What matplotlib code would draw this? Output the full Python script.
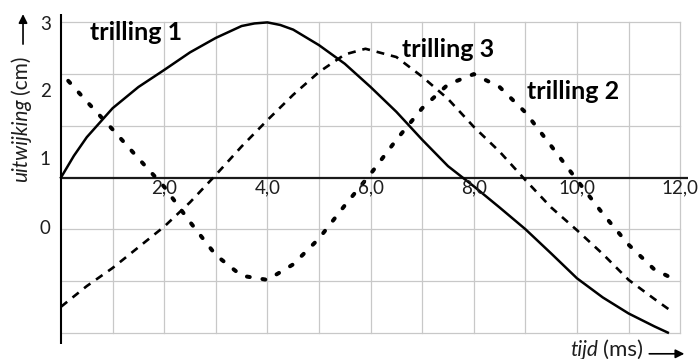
import matplotlib
matplotlib.use('Agg')
import matplotlib.pyplot as plt

# ---- data (tijd in ms, uitwijking in cm) ----
tijd_1 = [0, 0.25, 0.5, 1.0, 1.5, 2.0, 2.5, 3.0, 3.5, 3.75, 4.0, 4.25, 4.5, 5.0, 5.5, 6.0,
          6.5, 7.0, 7.5, 8.0, 8.5, 9.0, 9.5, 10.0, 10.5, 11.0, 11.5, 11.76]
uitw_1 = [0, 0.42, 0.78, 1.34, 1.75, 2.08, 2.42, 2.7, 2.93, 2.98, 3.0, 2.95, 2.86, 2.56, 2.2, 1.75,
          1.27, 0.73, 0.22, -0.17, -0.58, -1.0, -1.47, -1.95, -2.32, -2.63, -2.88, -3.0]

tijd_2 = [0.14, 0.5, 1.0, 1.5, 2.0, 2.5, 3.0, 3.5, 4.0, 4.5, 5.0, 5.5, 6.0, 6.5, 7.0, 7.5,
          8.0, 8.5, 9.0, 9.5, 10.0, 10.5, 11.0, 11.5, 11.95]
uitw_2 = [1.87, 1.47, 0.93, 0.37, -0.18, -0.86, -1.5, -1.9, -1.98, -1.68, -1.18, -0.54, 0.07, 0.73, 1.34, 1.8,
          2.0, 1.75, 1.26, 0.61, -0.05, -0.7, -1.3, -1.78, -2.0]

tijd_3 = [0, 0.5, 1.0, 1.5, 2.0, 2.5, 3.0, 3.5, 4.0, 4.5, 5.0, 5.5, 5.9, 6.5, 7.0, 7.5,
          8.0, 8.5, 9.0, 9.5, 10.0, 10.5, 11.0, 11.5, 11.85]
uitw_3 = [-2.5, -2.1, -1.75, -1.35, -0.95, -0.48, 0.05, 0.6, 1.11, 1.6, 2.04, 2.38, 2.49, 2.33, 1.95, 1.52,
          0.98, 0.5, -0.05, -0.58, -1.02, -1.48, -1.98, -2.35, -2.6]

x_ticks = [2, 4, 6, 8, 10, 12]
x_labels = ['2,0', '4,0', '6,0', '8,0', '10,0', '12,0']
# y labels in the original sit off the grid lines
y_ticks = [2.96, 1.67, 0.34, -0.99]
y_labels = ['3', '2', '1', '0']

plt.rcParams['font.family'] = ['Lato', 'DejaVu Sans']

fig = plt.figure(figsize=(6.98, 3.59), dpi=100)
ax = fig.add_axes([0, 0, 1, 1])
# 0 ms at 61 px, 51.6 px per ms ; 0 cm at 177.5 px, 51.7 px per cm
ax.set_xlim(-61 / 51.6, (698 - 61) / 51.6)
ax.set_ylim(-(359 - 177.5) / 51.7, 177.5 / 51.7)
ax.axis('off')

# grid
grijs = '#c8c8c8'
for t in range(1, 13):
    ax.plot([t, t], [-3, 3], color=grijs, lw=0.9, zorder=1)
for y in range(-3, 4):
    if y != 0:
        ax.plot([0, 12], [y, y], color=grijs, lw=0.9, zorder=1)

# assen
ax.plot([0, 0], [-3.23, 3.17], color='black', lw=1.5, zorder=3, solid_capstyle='butt')
ax.plot([0, 12.15], [0, 0], color='#1a1a1a', lw=1.6, zorder=3, solid_capstyle='butt')

# trillingen
ax.plot(tijd_1, uitw_1, color='black', lw=1.8, zorder=4)
ax.plot(tijd_3, uitw_3, color='black', lw=1.9, dashes=(3.0, 2.6), zorder=4)
ax.plot(tijd_2, uitw_2, color='black', lw=2.9, dashes=(0.7, 3.2),
        dash_capstyle='round', zorder=4)

tekst = '#1e1e1e'
# tick labels
for t, lab in zip(x_ticks, x_labels):
    ax.text(t, -0.2, lab, ha='center', va='center', fontsize=13.5,
            color=tekst, zorder=5)
for y, lab in zip(y_ticks, y_labels):
    ax.text(-0.2, y, lab, ha='right', va='center', fontsize=13.5, color=tekst)

# namen
ax.text(0.56, 2.66, 'trilling 1', fontsize=18, fontweight='bold', va='baseline')
ax.text(6.61, 2.33, 'trilling 3', fontsize=18, fontweight='bold', va='baseline')
ax.text(9.03, 1.52, 'trilling 2', fontsize=18, fontweight='bold', va='baseline')

# as-titels
ax.text(-0.78, 0.72, 'uitwijking', rotation=90, ha='center', va='center',
        fontsize=15, style='italic', color=tekst)
ax.text(-0.78, 1.99, '(cm)', rotation=90, ha='center', va='center',
        fontsize=15, color=tekst)
ax.annotate('', xy=(-0.736, 3.16), xytext=(-0.736, 2.58),
            arrowprops=dict(arrowstyle='-|>', color='black', lw=1.2,
                            mutation_scale=13, shrinkA=0, shrinkB=0))

ax.text(10.4, -3.33, 'tijd', ha='right', va='center', fontsize=15,
        style='italic', color=tekst)
ax.text(11.28, -3.33, '(ms)', ha='right', va='center', fontsize=16, color=tekst)
ax.annotate('', xy=(12.08, -3.41), xytext=(11.4, -3.41),
            arrowprops=dict(arrowstyle='-|>', color='black', lw=1.2,
                            mutation_scale=13, shrinkA=0, shrinkB=0))

fig.savefig('out.png', dpi=100)
